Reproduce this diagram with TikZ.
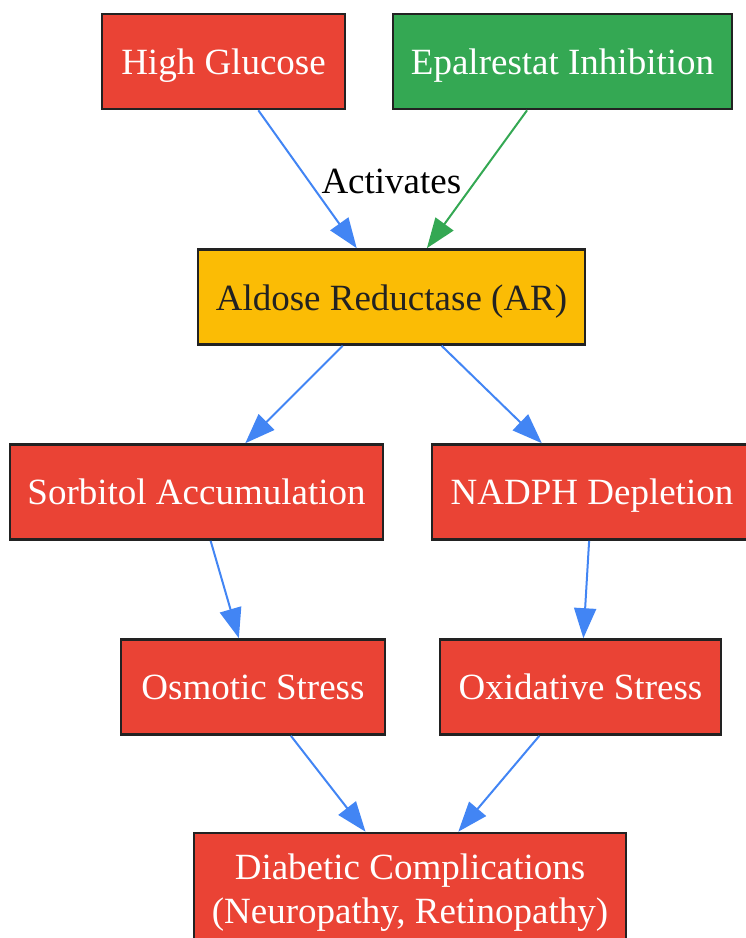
\documentclass[tikz,border=0pt]{standalone}
\usepackage{fontspec}
\setmainfont{Liberation Serif}
\usetikzlibrary{arrows.meta}
\definecolor{gred}{HTML}{EA4335}
\definecolor{ggreen}{HTML}{34A853}
\definecolor{gyellow}{HTML}{FBBC05}
\definecolor{gblue}{HTML}{4285F4}
\definecolor{bord}{HTML}{222222}
\begin{document}
\begin{tikzpicture}[x=1pt,y=-1pt,
  box/.style={draw=bord, line width=2.6pt, rectangle, inner sep=0pt, align=center,
    font=\fontsize{37}{44}\selectfont, minimum height=95pt, text height=26pt, text depth=1pt},
  redbox/.style={box, fill=gred, text=white},
  edge/.style={draw=gblue, line width=2pt, -{Triangle[length=30pt,width=22pt]}},
  lbl/.style={font=\fontsize{37}{44}\selectfont, text=black, inner sep=0pt}]
\useasboundingbox (0,0) rectangle (746,938);
\node[redbox, minimum width=243pt] (hg) at (223.5,61.5) {High Glucose};
\node[box, fill=ggreen, text=white, minimum width=339pt] (ep) at (562.5,61.5) {Epalrestat Inhibition};
\node[box, fill=gyellow, text=bord, minimum width=387pt, text height=27pt] (ar) at (391.5,297) {Aldose Reductase (AR)};
\node[redbox, minimum width=373pt] (sa) at (196.5,492) {Sorbitol Accumulation};
\node[redbox, minimum width=320pt] (nd) at (592,492) {NADPH Depletion};
\node[redbox, minimum width=264pt] (os) at (253,687) {Osmotic Stress};
\node[redbox, minimum width=281pt] (ox) at (580.5,687) {Oxidative Stress};
\node[redbox, minimum width=432pt, minimum height=112pt, text height=70pt, text depth=1pt] (dc) at (410,889) {Diabetic Complications\\(Neuropathy, Retinopathy)};
\draw[edge] (hg) -- node[lbl, pos=0.5, anchor=west, xshift=13pt, yshift=-2pt] {Activates} (ar);
\draw[edge, draw=ggreen, -{Triangle[length=30pt,width=22pt,fill=ggreen]}] (ep) -- (ar);
\draw[edge] (ar) -- (sa);
\draw[edge] (ar) -- (nd);
\draw[edge] (sa) -- (os);
\draw[edge] (nd) -- (ox);
\draw[edge] (os) -- (dc);
\draw[edge] (ox) -- (dc);
\end{tikzpicture}
\end{document}
